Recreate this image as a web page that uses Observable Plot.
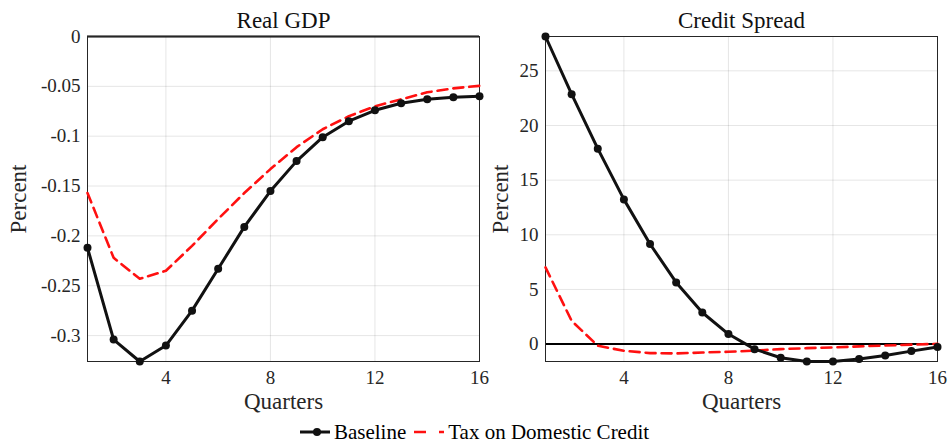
<!DOCTYPE html>
<html><head><meta charset="utf-8">
<script src="https://cdn.jsdelivr.net/npm/d3@7"></script>
<script src="https://cdn.jsdelivr.net/npm/@observablehq/plot@0.6"></script>
<style>
body{margin:0;background:#fff;}
#wrap{width:948px;height:444px;font-family:"Liberation Serif",serif;color:#262626;overflow:hidden;}
#charts{display:flex;height:420px;}
#legend{display:flex;justify-content:center;align-items:center;height:24px;font-size:21px;color:#000;line-height:24px;}
#legend span.item{display:inline-flex;align-items:center;}
#legend svg{display:block;}
</style></head><body>
<div id="wrap"><div id="charts"></div><div id="legend"></div></div>
<script>
const quarters = [1,2,3,4,5,6,7,8,9,10,11,12,13,14,15,16];
const xTicks = [4,8,12,16];

const gdpBaseline = [-0.212,-0.304,-0.326,-0.310,-0.275,-0.233,-0.191,-0.155,-0.125,-0.101,-0.085,-0.074,-0.067,-0.063,-0.061,-0.060];
const gdpTax      = [-0.157,-0.222,-0.243,-0.235,-0.210,-0.183,-0.157,-0.133,-0.111,-0.093,-0.080,-0.070,-0.063,-0.056,-0.052,-0.0495];
const gdpTicks = [-0.3,-0.25,-0.2,-0.15,-0.1,-0.05,0];

const spreadBaseline = [28.14,22.86,17.88,13.24,9.16,5.64,2.89,0.92,-0.46,-1.25,-1.59,-1.58,-1.37,-1.04,-0.64,-0.27];
const spreadTax      = [7.02,2.13,-0.15,-0.61,-0.82,-0.85,-0.77,-0.70,-0.60,-0.46,-0.37,-0.30,-0.21,-0.13,-0.05,0.03];
const spreadTicks = [0,5,10,15,20,25];

const seriesNames = ["Baseline","Tax on Domestic Credit"];
const titles = ["Real GDP","Credit Spread"];

const FONT = "Liberation Serif";
const INK = "#262626";

function rows(vals){ return quarters.map((q,i)=>({q, v: vals[i]})); }

function panel({title, base, tax, yTicks, width, marginLeft, labelDx}){
  const domain = d3.extent(base.concat([0]));
  return Plot.plot({
    width, height: 420,
    marginLeft, marginRight: 11, marginTop: 36, marginBottom: 59,
    style: {fontFamily: FONT, fontSize: "19px", color: INK, background: "white", overflow: "visible"},
    x: {domain: [1,16]},
    y: {domain},
    marks: [
      Plot.gridX(xTicks, {stroke: "#000", strokeOpacity: 0.1}),
      Plot.gridY(yTicks, {stroke: "#000", strokeOpacity: 0.1}),
      Plot.axisX(xTicks, {tickSize: 0, tickPadding: 9, fontSize: 19, label: null, fill: INK}),
      Plot.axisY(yTicks, {tickSize: 0, tickPadding: 7, fontSize: 19, label: null, fill: INK, tickFormat: d => String(d)}),
      Plot.ruleY([0], {stroke: "#000", strokeWidth: 2}),
      Plot.frame({stroke: INK, strokeWidth: 1}),
      Plot.line(rows(tax), {x: "q", y: "v", stroke: "#ff1010", strokeWidth: 2.6, strokeDasharray: "10,6"}),
      Plot.line(rows(base), {x: "q", y: "v", stroke: "#111", strokeWidth: 3}),
      Plot.dot(rows(base), {x: "q", y: "v", r: 4, fill: "#111", stroke: "none"}),
      Plot.text([title], {frameAnchor: "top", lineAnchor: "middle", dy: -16, fontSize: 23, fill: "#111"}),
      Plot.text(["Quarters"], {frameAnchor: "bottom", lineAnchor: "middle", dy: 40, fontSize: 23, fill: INK}),
      Plot.text(["Percent"], {frameAnchor: "left", textAnchor: "middle", lineAnchor: "middle", dx: labelDx, rotate: -90, fontSize: 23, fill: INK})
    ]
  });
}

const charts = document.getElementById("charts");
charts.append(panel({title: titles[0], base: gdpBaseline, tax: gdpTax, yTicks: gdpTicks, width: 490, marginLeft: 87, labelDx: -69}));
charts.append(panel({title: titles[1], base: spreadBaseline, tax: spreadTax, yTicks: spreadTicks, width: 458, marginLeft: 55, labelDx: -45}));

// legend
const legend = document.getElementById("legend");
function swatch(kind){
  const ns = "http://www.w3.org/2000/svg";
  const s = document.createElementNS(ns, "svg");
  s.setAttribute("width", 32); s.setAttribute("height", 12);
  const l = document.createElementNS(ns, "line");
  l.setAttribute("x1", 1); l.setAttribute("x2", 31); l.setAttribute("y1", 6); l.setAttribute("y2", 6);
  if (kind === 0) {
    l.setAttribute("stroke", "#111"); l.setAttribute("stroke-width", 3);
    s.append(l);
    const c = document.createElementNS(ns, "circle");
    c.setAttribute("cx", 18); c.setAttribute("cy", 6); c.setAttribute("r", 4); c.setAttribute("fill", "#111");
    s.append(c);
  } else {
    l.setAttribute("stroke", "#ff1010"); l.setAttribute("stroke-width", 2.6); l.setAttribute("stroke-dasharray", "12,13");
    s.append(l);
  }
  return s;
}
seriesNames.forEach((name, i) => {
  const it = document.createElement("span");
  it.className = "item";
  it.style.marginRight = i === 0 ? "7px" : "0";
  it.append(swatch(i));
  const t = document.createElement("span");
  t.textContent = name; t.style.marginLeft = "3px";
  it.append(t);
  legend.append(it);
});
</script>
</body></html>
